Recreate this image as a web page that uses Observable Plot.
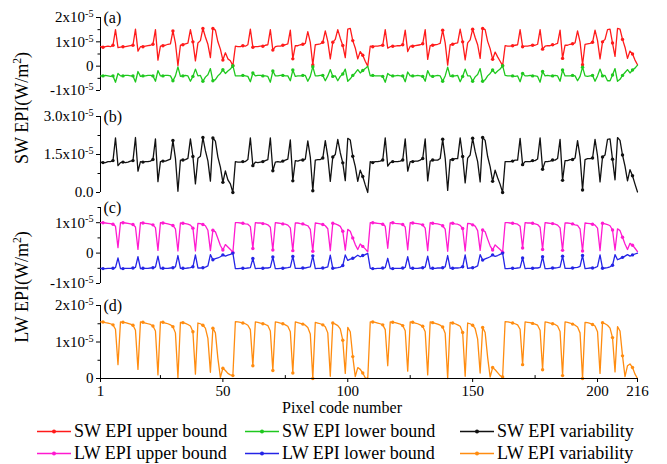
<!DOCTYPE html>
<html>
<head>
<meta charset="utf-8">
<script src="https://cdn.jsdelivr.net/npm/d3@7"></script>
<script src="https://cdn.jsdelivr.net/npm/@observablehq/plot@0.6"></script>
<style>
  body { margin: 0; background: #fff; }
  #chart { position: relative; width: 667px; height: 464px; overflow: hidden;
           font-family: "Liberation Serif", "Times New Roman", serif; color: #000; background: #fff; }
  #chart svg.panel { position: absolute; left: 0; }
  .ytitle { position: absolute; white-space: nowrap; font-size: 18px;
            transform: translate(-50%, -50%) rotate(-90deg); }
  .xtitle { position: absolute; white-space: nowrap; font-size: 16px; transform: translate(-50%, -50%); }
  .lg { position: absolute; display: flex; align-items: center; white-space: nowrap;
        font-size: 18px; transform: translateY(-50%); }
  .lg svg { margin-right: 3px; }
</style>
</head>
<body>
<div id="chart"></div>
<script>
// Pixel codes along the x axis
const PIXEL = d3.range(1, 217);

// All values below are in units of 1x10^-5 W/m^2.
// Each block of 54 pixel codes is made of groups of 8,8,8,8,7,6,5,3,1 codes.

// SW EPI upper bound
const SW_UPPER = [
  // 1-54
  0.80,0.78,0.80,0.82,0.80,0.86,1.50,0.76,
  0.78,0.80,0.80,0.82,0.84,0.86,1.52,0.62,
  0.80,0.80,0.82,0.84,0.86,0.90,1.50,0.25,
  0.82,0.84,0.86,0.90,0.92,1.45,0.95,0.02,
  0.86,0.88,0.92,0.95,1.50,1.00,0.22,
  0.95,1.05,1.55,1.20,0.90,0.35,
  1.55,1.48,1.00,0.70,0.25,
  0.55,0.30,0.22,
  0.02,
  // 55-108
  0.82,0.80,0.80,0.84,0.82,0.88,1.52,0.78,
  0.80,0.80,0.82,0.82,0.86,0.88,1.50,0.66,
  0.80,0.82,0.82,0.86,0.88,0.92,1.48,0.30,
  0.84,0.84,0.88,0.90,0.94,1.42,0.98,0.05,
  0.88,0.90,0.92,0.98,1.45,1.02,0.30,
  0.98,1.10,1.50,1.15,0.85,0.35,
  1.52,1.55,1.05,0.75,0.30,
  0.60,0.45,0.20,
  0.00,
  // 109-162
  0.82,0.80,0.82,0.82,0.84,0.86,1.50,0.74,
  0.80,0.82,0.82,0.84,0.84,0.88,1.48,0.60,
  0.82,0.82,0.84,0.86,0.88,0.92,1.50,0.28,
  0.84,0.86,0.88,0.90,0.94,1.48,0.96,0.04,
  0.88,0.90,0.94,0.96,1.52,1.00,0.26,
  0.96,1.08,1.52,1.18,0.88,0.32,
  1.55,1.50,1.02,0.72,0.28,
  0.58,0.38,0.20,
  0.02,
  // 163-216
  0.84,0.82,0.82,0.84,0.86,0.88,1.50,0.80,
  0.82,0.82,0.84,0.86,0.86,0.90,1.50,0.70,
  0.82,0.84,0.84,0.88,0.90,0.94,1.48,0.32,
  0.86,0.86,0.90,0.92,0.96,1.45,1.00,0.06,
  0.90,0.92,0.94,0.98,1.48,1.05,0.30,
  1.00,1.10,1.50,1.52,0.95,0.40,
  1.55,1.52,1.10,0.78,0.32,
  0.62,0.50,0.25,
  0.06
];

// SW EPI lower bound
const SW_LOWER = [
  -0.40,-0.40,-0.38,-0.40,-0.42,-0.40,-0.66,-0.30,
  -0.40,-0.40,-0.38,-0.38,-0.40,-0.40,-0.65,-0.22,
  -0.42,-0.40,-0.40,-0.38,-0.38,-0.40,-0.62,-0.18,
  -0.40,-0.40,-0.38,-0.38,-0.40,-0.60,-0.40,-0.03,
  -0.42,-0.40,-0.38,-0.40,-0.62,-0.42,-0.12,
  -0.40,-0.38,-0.62,-0.45,-0.35,-0.10,
  -0.60,-0.55,-0.40,-0.30,-0.15,
  -0.30,-0.20,-0.12,
  0.02,
  -0.40,-0.40,-0.40,-0.38,-0.40,-0.42,-0.64,-0.28,
  -0.40,-0.38,-0.38,-0.40,-0.40,-0.42,-0.66,-0.20,
  -0.40,-0.40,-0.38,-0.38,-0.40,-0.40,-0.60,-0.16,
  -0.42,-0.40,-0.40,-0.38,-0.38,-0.62,-0.42,-0.02,
  -0.40,-0.40,-0.38,-0.38,-0.60,-0.40,-0.14,
  -0.42,-0.40,-0.60,-0.42,-0.32,-0.12,
  -0.62,-0.52,-0.38,-0.28,-0.14,
  -0.28,-0.18,-0.10,
  0.00,
  -0.40,-0.38,-0.40,-0.40,-0.40,-0.42,-0.66,-0.30,
  -0.38,-0.40,-0.40,-0.38,-0.40,-0.40,-0.64,-0.24,
  -0.40,-0.40,-0.40,-0.38,-0.40,-0.42,-0.62,-0.18,
  -0.40,-0.42,-0.40,-0.38,-0.40,-0.62,-0.40,-0.04,
  -0.42,-0.40,-0.40,-0.38,-0.64,-0.42,-0.12,
  -0.40,-0.40,-0.62,-0.44,-0.34,-0.10,
  -0.62,-0.56,-0.40,-0.30,-0.16,
  -0.30,-0.20,-0.12,
  0.02,
  -0.38,-0.40,-0.40,-0.40,-0.42,-0.40,-0.64,-0.30,
  -0.40,-0.40,-0.38,-0.40,-0.40,-0.42,-0.66,-0.22,
  -0.40,-0.38,-0.40,-0.40,-0.38,-0.40,-0.62,-0.16,
  -0.40,-0.40,-0.40,-0.38,-0.40,-0.60,-0.42,-0.04,
  -0.40,-0.42,-0.40,-0.38,-0.62,-0.40,-0.12,
  -0.40,-0.38,-0.60,-0.60,-0.36,-0.10,
  -0.62,-0.54,-0.38,-0.26,-0.14,
  -0.28,-0.16,-0.08,
  0.04
];

// SW EPI variability
const SW_VAR = [
  1.20,1.18,1.18,1.22,1.22,1.26,2.16,1.06,
  1.18,1.20,1.18,1.20,1.24,1.26,2.17,0.84,
  1.22,1.20,1.22,1.22,1.24,1.30,2.12,0.43,
  1.22,1.24,1.24,1.28,1.32,2.05,1.35,0.05,
  1.28,1.28,1.30,1.35,2.12,1.42,0.34,
  1.35,1.43,2.17,1.65,1.25,0.45,
  2.15,2.03,1.40,1.00,0.40,
  0.85,0.50,0.34,
  0.00,
  1.22,1.20,1.20,1.22,1.22,1.30,2.16,1.06,
  1.20,1.18,1.20,1.22,1.26,1.30,2.16,0.86,
  1.20,1.22,1.20,1.24,1.28,1.32,2.08,0.46,
  1.26,1.24,1.28,1.28,1.32,2.04,1.40,0.07,
  1.28,1.30,1.30,1.36,2.05,1.42,0.44,
  1.40,1.50,2.10,1.57,1.17,0.47,
  2.14,2.07,1.43,1.03,0.44,
  0.88,0.63,0.30,
  0.00,
  1.22,1.18,1.22,1.22,1.24,1.28,2.16,1.04,
  1.18,1.22,1.22,1.22,1.24,1.28,2.12,0.84,
  1.22,1.22,1.24,1.24,1.28,1.34,2.12,0.46,
  1.24,1.28,1.28,1.28,1.34,2.10,1.36,0.08,
  1.30,1.30,1.34,1.34,2.16,1.42,0.38,
  1.36,1.48,2.14,1.62,1.22,0.42,
  2.17,2.06,1.42,1.02,0.44,
  0.88,0.58,0.32,
  0.00,
  1.22,1.22,1.22,1.24,1.28,1.28,2.14,1.10,
  1.22,1.22,1.22,1.26,1.26,1.32,2.16,0.92,
  1.22,1.22,1.24,1.28,1.28,1.34,2.10,0.48,
  1.26,1.26,1.30,1.30,1.36,2.05,1.42,0.10,
  1.30,1.34,1.34,1.36,2.10,1.45,0.42,
  1.40,1.48,2.10,2.12,1.31,0.50,
  2.17,2.06,1.48,1.04,0.46,
  0.90,0.66,0.33,
  0.02
];

// LW EPI upper bound
const LW_UPPER = [
  1.00,1.00,0.99,0.98,0.97,0.95,0.88,0.18,
  1.00,1.00,0.99,0.98,0.96,0.94,0.86,0.12,
  1.00,0.99,0.98,0.97,0.95,0.93,0.84,0.09,
  1.00,0.99,0.98,0.96,0.94,0.91,0.80,0.07,
  0.99,0.98,0.97,0.95,0.92,0.82,0.07,
  0.98,0.97,0.94,0.90,0.75,0.08,
  0.75,0.70,0.48,0.25,0.10,
  0.28,0.20,0.12,
  0.02,
  1.00,1.00,0.99,0.98,0.96,0.95,0.87,0.15,
  1.00,0.99,0.99,0.97,0.96,0.93,0.85,0.10,
  1.00,0.99,0.98,0.96,0.95,0.92,0.83,0.08,
  0.99,0.99,0.97,0.96,0.93,0.90,0.78,0.06,
  0.99,0.98,0.96,0.94,0.90,0.80,0.08,
  0.98,0.96,0.93,0.88,0.72,0.10,
  0.78,0.72,0.50,0.28,0.12,
  0.30,0.22,0.14,
  0.04,
  1.00,1.00,0.99,0.98,0.97,0.95,0.88,0.16,
  1.00,1.00,0.98,0.97,0.96,0.94,0.86,0.11,
  1.00,0.99,0.98,0.97,0.95,0.93,0.82,0.08,
  1.00,0.98,0.97,0.96,0.94,0.90,0.79,0.06,
  0.99,0.98,0.96,0.95,0.91,0.81,0.07,
  0.98,0.97,0.93,0.89,0.74,0.09,
  0.76,0.70,0.46,0.24,0.10,
  0.27,0.19,0.12,
  0.03,
  1.00,1.00,0.99,0.98,0.97,0.95,0.88,0.17,
  1.00,0.99,0.99,0.98,0.96,0.94,0.85,0.12,
  1.00,0.99,0.98,0.97,0.95,0.92,0.83,0.09,
  0.99,0.99,0.98,0.96,0.93,0.91,0.80,0.07,
  0.99,0.98,0.97,0.95,0.92,0.82,0.08,
  0.98,0.96,0.94,0.90,0.76,0.10,
  0.80,0.74,0.52,0.30,0.12,
  0.32,0.26,0.16,
  0.05
];

// LW EPI lower bound
const LW_LOWER = [
  -0.50,-0.51,-0.51,-0.50,-0.50,-0.50,-0.48,-0.16,
  -0.51,-0.51,-0.50,-0.50,-0.50,-0.49,-0.47,-0.12,
  -0.51,-0.50,-0.50,-0.50,-0.49,-0.48,-0.46,-0.10,
  -0.51,-0.50,-0.50,-0.50,-0.49,-0.48,-0.45,-0.08,
  -0.50,-0.50,-0.50,-0.49,-0.48,-0.45,-0.06,
  -0.49,-0.49,-0.48,-0.46,-0.42,-0.05,
  -0.22,-0.18,-0.16,-0.12,-0.06,
  -0.10,-0.07,-0.04,
  0.00,
  -0.51,-0.51,-0.50,-0.50,-0.50,-0.49,-0.48,-0.18,
  -0.51,-0.50,-0.50,-0.50,-0.49,-0.49,-0.47,-0.13,
  -0.51,-0.51,-0.50,-0.50,-0.49,-0.48,-0.46,-0.11,
  -0.50,-0.50,-0.50,-0.49,-0.49,-0.47,-0.45,-0.09,
  -0.51,-0.50,-0.50,-0.49,-0.48,-0.45,-0.07,
  -0.50,-0.49,-0.48,-0.46,-0.41,-0.06,
  -0.24,-0.20,-0.17,-0.13,-0.07,
  -0.12,-0.08,-0.05,
  -0.01,
  -0.50,-0.51,-0.51,-0.50,-0.50,-0.49,-0.48,-0.17,
  -0.51,-0.51,-0.50,-0.50,-0.50,-0.49,-0.47,-0.12,
  -0.50,-0.50,-0.50,-0.50,-0.49,-0.48,-0.46,-0.10,
  -0.51,-0.50,-0.50,-0.49,-0.49,-0.48,-0.45,-0.08,
  -0.50,-0.50,-0.49,-0.49,-0.48,-0.45,-0.06,
  -0.50,-0.49,-0.48,-0.46,-0.42,-0.05,
  -0.23,-0.19,-0.16,-0.12,-0.06,
  -0.11,-0.08,-0.04,
  0.00,
  -0.51,-0.51,-0.50,-0.50,-0.50,-0.49,-0.48,-0.16,
  -0.51,-0.50,-0.50,-0.50,-0.49,-0.49,-0.47,-0.12,
  -0.51,-0.51,-0.50,-0.49,-0.49,-0.48,-0.46,-0.10,
  -0.50,-0.50,-0.50,-0.49,-0.48,-0.47,-0.44,-0.08,
  -0.51,-0.50,-0.49,-0.49,-0.48,-0.44,-0.06,
  -0.50,-0.49,-0.48,-0.45,-0.40,-0.05,
  -0.22,-0.18,-0.14,-0.10,-0.05,
  -0.10,-0.06,-0.03,
  0.00
];

// LW EPI variability
const LW_VAR = [
  1.55,1.55,1.53,1.52,1.50,1.47,1.35,0.38,
  1.55,1.54,1.53,1.51,1.49,1.46,1.32,0.25,
  1.55,1.54,1.52,1.50,1.48,1.44,1.30,0.10,
  1.55,1.54,1.52,1.50,1.47,1.42,1.25,0.02,
  1.54,1.53,1.51,1.48,1.44,1.28,0.12,
  1.52,1.50,1.46,1.38,1.10,0.17,
  1.38,1.25,0.55,0.03,0.28,
  0.22,0.14,0.10,
  0.08,
  1.56,1.55,1.54,1.52,1.50,1.46,1.34,0.35,
  1.55,1.54,1.52,1.50,1.48,1.45,1.30,0.22,
  1.55,1.54,1.52,1.50,1.47,1.43,1.28,0.15,
  1.55,1.53,1.51,1.49,1.46,1.40,1.22,0.00,
  1.54,1.52,1.50,1.47,1.42,1.25,0.06,
  1.52,1.49,1.45,1.36,1.05,0.14,
  1.40,1.28,0.60,0.05,0.30,
  0.25,0.15,0.02,
  0.00,
  1.55,1.55,1.54,1.52,1.50,1.47,1.34,0.35,
  1.55,1.54,1.53,1.51,1.49,1.45,1.31,0.20,
  1.55,1.54,1.52,1.50,1.47,1.43,1.28,0.10,
  1.55,1.53,1.51,1.49,1.46,1.41,1.24,0.00,
  1.54,1.52,1.50,1.47,1.43,1.26,0.06,
  1.52,1.50,1.46,1.37,1.08,0.15,
  1.40,1.26,0.58,0.04,0.30,
  0.24,0.16,0.08,
  0.04,
  1.56,1.55,1.54,1.52,1.50,1.47,1.35,0.38,
  1.55,1.54,1.53,1.51,1.49,1.46,1.32,0.24,
  1.55,1.54,1.52,1.50,1.48,1.44,1.29,0.08,
  1.55,1.54,1.52,1.49,1.46,1.41,1.25,0.00,
  1.54,1.53,1.51,1.48,1.44,1.28,0.14,
  1.53,1.50,1.46,1.38,1.12,0.18,
  1.42,1.30,0.62,0.05,0.35,
  0.40,0.30,0.12,
  0.00
];

// Axis ticks
const X_TICKS = [1, 50, 100, 150, 200, 216];
const X_MINOR = [25, 75, 125, 175];
const TICKS_A = [-1, 0, 1, 2],   MINOR_A = [-0.5, 0.5, 1.5];
const TICKS_B = [0, 1.5, 3],     MINOR_B = [0.75, 2.25];
const TICKS_C = [-1, 0, 1],      MINOR_C = [-0.5, 0.5, 1.5];
const TICKS_D = [0, 1, 2],       MINOR_D = [0.5, 1.5];

const COLORS = {
  swUpper: "#ff1a1a", swLower: "#1ec81e", swVar: "#111111",
  lwUpper: "#ff1ad0", lwLower: "#2424e6", lwVar: "#ff8c10"
};

const LEGEND = [
  ["SW EPI upper bound", COLORS.swUpper], ["SW EPI lower bound", COLORS.swLower], ["SW EPI variability", COLORS.swVar],
  ["LW EPI upper bound", COLORS.lwUpper], ["LW EPI lower bound", COLORS.lwLower], ["LW EPI variability", COLORS.lwVar]
];

const chart = document.getElementById("chart");
const FONT = "'Liberation Serif', 'Times New Roman', serif";

// "1x10^-5" style labels: the part after ^ becomes a superscript
const sci = d => d === 0 ? "0" : `${d}x10^-5`;
const sciFixed = d => d === 0 ? "0.0" : `${d.toFixed(1)}x10^-5`;

function superscripts(svg) {
  d3.select(svg).selectAll("text").each(function () {
    const t = this.textContent;
    if (!t.includes("^")) return;
    const [base, exp] = t.split("^");
    this.textContent = "";
    const s = d3.select(this);
    s.append("tspan").text(base);
    s.append("tspan").attr("dy", "-0.5em").attr("font-size", "0.68em").text(exp);
  });
}

function seriesMarks(values, color) {
  return [
    Plot.line(values, {x: PIXEL, y: values, stroke: color, strokeWidth: 1.3}),
    Plot.dot(values, {x: PIXEL, y: values, fill: color, r: 1.7, filter: (d, i) => i % 4 === 1})
  ];
}

function panel({top, marginTop, marginBottom, plotHeight, domain, ticks, minor, fmt, series, tag, xAxis}) {
  const marks = [
    Plot.ruleX([1], {stroke: "#000", strokeWidth: 1}),
    Plot.axisY(minor, {tickSize: 2.5, tickFormat: () => "", strokeWidth: 1}),
    Plot.axisY(ticks, {tickSize: 4, tickPadding: 3, tickFormat: fmt, fontSize: 15, label: null, strokeWidth: 1}),
    ...series.flatMap(([v, c]) => seriesMarks(v, c)),
    Plot.text([tag], {frameAnchor: "top-left", text: d => d, dx: 3, lineAnchor: "middle",
                      textAnchor: "start", fontSize: 16})
  ];
  if (xAxis) {
    marks.push(
      Plot.ruleY([0], {stroke: "#000", strokeWidth: 1}),
      Plot.ruleX(X_MINOR, {y1: 0, y2: 0.08, stroke: "#000"}),
      Plot.axisX(X_TICKS, {tickSize: 4, tickPadding: 3, fontSize: 15, label: null})
    );
  }
  const svg = Plot.plot({
    width: 667,
    height: marginTop + plotHeight + marginBottom,
    marginLeft: 100, marginRight: 30, marginTop, marginBottom,
    x: {domain: [1, 216], axis: xAxis ? undefined : null},
    y: {domain},
    style: {fontFamily: FONT, background: "transparent", color: "#000", overflow: "visible"},
    marks
  });
  svg.classList.add("panel");
  svg.style.top = `${top}px`;
  superscripts(svg);
  chart.appendChild(svg);
}

panel({top: 0, marginTop: 17, plotHeight: 73, marginBottom: 6, domain: [-1, 2],
       ticks: TICKS_A, minor: MINOR_A, fmt: sci, tag: "(a)",
       series: [[SW_UPPER, COLORS.swUpper], [SW_LOWER, COLORS.swLower]]});
panel({top: 99, marginTop: 17, plotHeight: 76, marginBottom: 6, domain: [0, 3],
       ticks: TICKS_B, minor: MINOR_B, fmt: sciFixed, tag: "(b)",
       series: [[SW_VAR, COLORS.swVar]]});
panel({top: 191, marginTop: 16, plotHeight: 76, marginBottom: 6, domain: [-1, 1.5],
       ticks: TICKS_C, minor: MINOR_C, fmt: sci, tag: "(c)",
       series: [[LW_UPPER, COLORS.lwUpper], [LW_LOWER, COLORS.lwLower]]});
panel({top: 288, marginTop: 17, plotHeight: 73, marginBottom: 40, domain: [0, 2],
       ticks: TICKS_D, minor: MINOR_D, fmt: sci, tag: "(d)", xAxis: true,
       series: [[LW_VAR, COLORS.lwVar]]});

// Axis titles
function label(cls, text, x, y) {
  const el = document.createElement("div");
  el.className = cls;
  el.innerHTML = text;
  el.style.left = `${x}px`;
  el.style.top = `${y}px`;
  chart.appendChild(el);
}
label("ytitle", "SW EPI(W/m<sup style='font-size:0.65em'>2</sup>)", 22, 108);
label("ytitle", "LW EPI(W/m<sup style='font-size:0.65em'>2</sup>)", 22, 287);
label("xtitle", "Pixel code number", 342, 408);

// Legend: two rows of three entries
const LEG_X = [37, 245, 460];
const LEG_Y = [431, 453];
LEGEND.forEach(([name, color], i) => {
  const el = document.createElement("div");
  el.className = "lg";
  el.style.left = `${LEG_X[i % 3]}px`;
  el.style.top = `${LEG_Y[Math.floor(i / 3)]}px`;
  const sw = d3.create("svg").attr("width", 34).attr("height", 10);
  sw.append("line").attr("x1", 0).attr("x2", 34).attr("y1", 5).attr("y2", 5)
    .attr("stroke", color).attr("stroke-width", 1.4);
  sw.append("circle").attr("cx", 17).attr("cy", 5).attr("r", 2).attr("fill", color);
  el.appendChild(sw.node());
  const span = document.createElement("span");
  span.textContent = name;
  el.appendChild(span);
  chart.appendChild(el);
});
</script>
</body>
</html>
